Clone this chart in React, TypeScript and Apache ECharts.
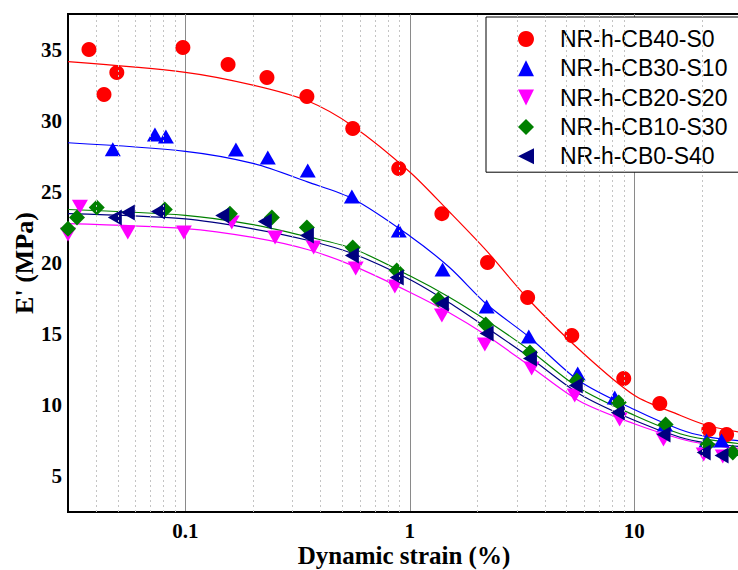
import React, { useEffect, useRef } from 'react';
import * as echarts from 'echarts';

const seriesNames = ['NR-h-CB40-S0', 'NR-h-CB30-S10', 'NR-h-CB20-S20', 'NR-h-CB10-S30', 'NR-h-CB0-S40'];
const seriesColors = ['#ff0000', '#0000ff', '#ff00ff', '#008000', '#000080'];
const seriesSymbols = [
  'circle',
  'path://M5,0L10,10L0,10Z',
  'path://M0,0L10,0L5,10Z',
  'diamond',
  'path://M10,0L10,10L0,5Z',
];

const strainCB40 = [0.0372, 0.0434, 0.0495, 0.0975, 0.155, 0.231, 0.348, 0.557, 0.893, 1.39, 2.22, 3.35, 5.27, 8.98, 13.0, 21.5, 25.8];
const modCB40 = [35.0, 31.84, 33.38, 35.14, 33.95, 33.03, 31.7, 29.45, 26.64, 23.47, 20.03, 17.57, 14.9, 11.88, 10.12, 8.3, 7.95];

const strainCB30 = [0.0475, 0.0732, 0.0819, 0.168, 0.233, 0.351, 0.552, 0.893, 1.4, 2.2, 3.39, 5.6, 8.19, 13.7, 21.0, 24.5];
const modCB30 = [28.0, 29.03, 28.89, 27.97, 27.41, 26.5, 24.67, 22.28, 19.54, 16.94, 14.83, 12.23, 10.54, 8.65, 7.52, 7.52];

const strainCB20 = [0.03, 0.0339, 0.0554, 0.0985, 0.161, 0.251, 0.373, 0.574, 0.858, 1.39, 2.16, 3.49, 5.43, 8.61, 13.5, 20.4, 24.8];
const modCB20 = [22.0, 23.95, 22.14, 22.14, 22.84, 21.79, 21.09, 19.61, 18.35, 16.31, 14.27, 12.58, 10.68, 9.0, 7.59, 6.54, 6.4];

const strainCB10 = [0.03, 0.0329, 0.0403, 0.081, 0.158, 0.243, 0.348, 0.557, 0.875, 1.34, 2.18, 3.43, 5.55, 8.53, 13.8, 21.2, 27.5];
const modCB10 = [22.4, 23.19, 23.9, 23.76, 23.47, 23.19, 22.49, 21.09, 19.47, 17.43, 15.67, 13.71, 11.74, 10.19, 8.65, 7.24, 6.68];

const strainCB0 = [0.0485, 0.0554, 0.0755, 0.146, 0.226, 0.348, 0.552, 0.875, 1.39, 2.2, 3.43, 5.49, 8.45, 13.5, 20.4, 24.5];
const modCB0 = [23.19, 23.55, 23.62, 23.33, 22.91, 21.93, 20.52, 18.98, 17.15, 15.04, 13.29, 11.39, 9.49, 7.94, 6.68, 6.47];

// fitted curves
const strainFit = [0.03, 0.1, 0.2, 0.35, 0.56, 1, 1.5, 2.2, 3.4, 5.7, 10, 16, 21, 29.6];
const fitCB40 = [34.15, 33.4, 32.5, 31.4, 29.6, 26.4, 23.6, 20.85, 17.4, 13.9, 10.7, 9.3, 8.6, 8.1];
const fitCB30 = [28.45, 27.85, 27.0, 25.7, 24.5, 21.9, 19.7, 17.1, 14.8, 11.7, 9.7, 8.3, 7.8, 7.5];
const fitCB20 = [22.77, 22.42, 21.8, 20.95, 19.8, 17.95, 16.5, 14.9, 12.8, 10.3, 8.7, 7.65, 7.25, 6.95];
const fitCB10 = [23.76, 23.35, 22.7, 21.85, 21.0, 19.1, 17.6, 15.96, 13.9, 11.2, 9.3, 8.0, 7.6, 7.3];
const fitCB0 = [23.47, 23.1, 22.4, 21.6, 20.65, 18.84, 17.2, 15.45, 13.4, 10.8, 8.95, 7.75, 7.35, 7.1];

const yTickValues = [5, 10, 15, 20, 25, 30, 35];
const minorGridValues = [0.04, 0.05, 0.06, 0.07, 0.08, 0.09, 0.2, 0.3, 0.4, 0.5, 0.6, 0.7, 0.8, 0.9, 2, 3, 4, 5, 6, 7, 8, 9, 20];

const strains = [strainCB40, strainCB30, strainCB20, strainCB10, strainCB0];
const mods = [modCB40, modCB30, modCB20, modCB10, modCB0];
const fits = [fitCB40, fitCB30, fitCB20, fitCB10, fitCB0];
const symbolSizes: any[] = [15, [16, 14], [16, 14], 16, [14, 16]];

const serif = '"Liberation Serif", "Times New Roman", serif';

function buildOption(): any {
  const series: any[] = [];
  series.push({
    name: 'minor-grid',
    type: 'line',
    data: [],
    z: 1,
    silent: true,
    markLine: {
      silent: true,
      symbol: ['none', 'none'],
      label: { show: false },
      lineStyle: { type: [2, 3], color: '#c4c4c4', width: 1 },
      emphasis: { disabled: true },
      data: minorGridValues.map((v) => ({ xAxis: v })),
    },
  });
  fits.forEach((f, i) => {
    series.push({
      name: 'fit-' + seriesNames[i],
      type: 'line',
      data: strainFit.map((s, j) => [s, f[j]]),
      smooth: 0.3,
      showSymbol: false,
      symbol: 'none',
      z: 2,
      silent: true,
      lineStyle: { color: seriesColors[i], width: 1.2 },
    });
  });
  strains.forEach((s, i) => {
    series.push({
      name: seriesNames[i],
      type: 'scatter',
      data: s.map((x, j) => [x, mods[i][j]]),
      symbol: seriesSymbols[i],
      symbolSize: symbolSizes[i],
      itemStyle: { color: seriesColors[i], opacity: 1 },
      z: 3,
    });
  });

  return {
    animation: false,
    backgroundColor: '#ffffff',
    grid: {
      left: 68,
      top: 14,
      right: -2,
      bottom: 58,
      show: true,
      borderColor: '#000',
      borderWidth: 2,
      outerBoundsMode: 'none',
      containLabel: false,
    },
    legend: {
      data: seriesNames.map((n, i) => ({ name: n, icon: seriesSymbols[i] })),
      orient: 'vertical',
      left: 486,
      top: 17,
      itemWidth: 16,
      itemHeight: 16,
      itemGap: 3.3,
      padding: [9, 60, 3, 32],
      borderColor: '#000',
      borderWidth: 1,
      backgroundColor: '#fff',
      selectedMode: false,
      textStyle: {
        fontFamily: '"Liberation Sans", Arial, sans-serif',
        fontSize: 23,
        color: '#000',
        lineHeight: 26,
        padding: [0, 0, 0, 21],
      },
    },
    xAxis: {
      type: 'log',
      logBase: 10,
      min: 0.03,
      max: 29.6,
      name: 'Dynamic strain (%)',
      nameLocation: 'middle',
      nameGap: 32,
      nameMoveOverlap: false,
      nameTextStyle: { fontFamily: serif, fontWeight: 'bold', fontSize: 25, color: '#000', lineHeight: 22 },
      axisLine: { show: true, lineStyle: { color: '#000', width: 2 } },
      axisTick: { show: false },
      splitLine: { show: true, lineStyle: { color: '#8a8a8a', width: 1 } },
      axisLabel: {
        fontFamily: serif,
        fontWeight: 'bold',
        fontSize: 21,
        lineHeight: 20,
        color: '#000',
        margin: 9,
        showMinLabel: false,
        showMaxLabel: false,
        formatter: (v: number) => {
          const l = Math.log10(v);
          if (Math.abs(l - Math.round(l)) > 1e-6) return '';
          const r = Math.round(l);
          return r < 0 ? String(Math.pow(10, r).toFixed(-r)) : String(Math.pow(10, r));
        },
      },
    },
    yAxis: {
      type: 'value',
      min: 2.5,
      max: 37.5,
      name: "E' (MPa)",
      nameLocation: 'middle',
      nameGap: 31,
      nameMoveOverlap: false,
      nameTextStyle: { fontFamily: serif, fontWeight: 'bold', fontSize: 26, color: '#000' },
      axisLine: { show: true, lineStyle: { color: '#000', width: 2 } },
      axisTick: { show: false },
      splitLine: { show: false },
      axisLabel: {
        customValues: yTickValues,
        fontFamily: serif,
        fontWeight: 'bold',
        fontSize: 21,
        color: '#000',
        margin: 6,
      },
    },
    series,
  };
}

export default function App() {
  const ref = useRef<HTMLDivElement>(null);
  useEffect(() => {
    document.body.style.margin = '0';
    const chart = echarts.init(ref.current as HTMLDivElement, null, { renderer: 'svg' });
    chart.setOption(buildOption());
    return () => chart.dispose();
  }, []);
  return (
    <div
      ref={ref}
      style={{ position: 'absolute', left: 0, top: 0, width: 738, height: 570, background: '#fff' }}
    />
  );
}
